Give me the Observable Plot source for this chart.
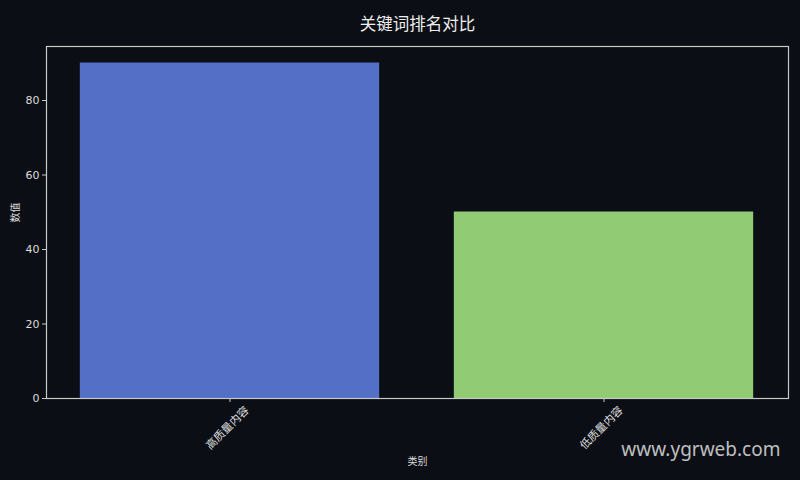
<!DOCTYPE html>
<html>
<head>
<meta charset="utf-8">
<script src="https://cdn.jsdelivr.net/npm/d3@7"></script>
<script src="https://cdn.jsdelivr.net/npm/@observablehq/plot@0.6"></script>
<style>
  html, body { margin: 0; padding: 0; background: #0b0e14; }
  #chart { width: 800px; height: 480px; }
</style>
</head>
<body>
<div id="chart"></div>
<script>
const title = "关键词排名对比";
const categories = ["高质量内容", "低质量内容"];
const values = [90, 50];
const colors = ["#5470c6", "#91cc75"];
const yTicks = [0, 20, 40, 60, 80];
const xLabel = "类别";
const yLabel = "数值";
const watermark = "www.ygrweb.com";

const data = categories.map((c, i) => ({category: c, value: values[i], color: colors[i]}));
const font = "'DejaVu Sans', 'Noto Sans CJK SC', sans-serif";

const chart = Plot.plot({
  width: 800,
  height: 480,
  marginTop: 46,
  marginLeft: 46,
  marginRight: 12,
  marginBottom: 82,
  style: {background: "#0b0e14", color: "#dddddd", fontFamily: font, fontSize: "11px"},
  x: {domain: categories, paddingInner: 0.2, paddingOuter: 0.09, axis: null},
  y: {domain: [0, 94.5], axis: null},
  marks: [
    Plot.barY(data, {x: "category", y: "value", fill: "color", stroke: "color", strokeOpacity: 0.6, strokeWidth: 0.6}),
    Plot.frame({stroke: "#c8c8c8", strokeWidth: 1.2}),
    Plot.axisY(yTicks, {anchor: "left", tickSize: 4, tickPadding: 3, stroke: "#c8c8c8", fill: "#dddddd", fontSize: 11, label: null}),
    Plot.axisX({anchor: "bottom", tickSize: 4, tickFormat: () => "", stroke: "#c8c8c8", label: null}),
    Plot.text(categories, {x: d => d, frameAnchor: "bottom", rotate: -45, dy: 32, textAnchor: "middle", fill: "#dddddd", fontSize: 11}),
    Plot.text([xLabel], {frameAnchor: "bottom", dy: 66, fill: "#dddddd", fontSize: 10}),
    Plot.text([yLabel], {frameAnchor: "left", dx: -31, rotate: -90, fill: "#dddddd", fontSize: 10}),
    Plot.text([title], {frameAnchor: "top", dy: -28, fill: "#eeeeee", fontSize: 16.5}),
    Plot.text([watermark], {frameAnchor: "bottom-right", dx: -8, dy: 57, textAnchor: "end", fill: "#e0e0e0", fillOpacity: 0.85, fontSize: 19, fontFamily: "'Noto Sans', 'Open Sans', sans-serif"})
  ]
});
document.getElementById("chart").appendChild(chart);
</script>
</body>
</html>
